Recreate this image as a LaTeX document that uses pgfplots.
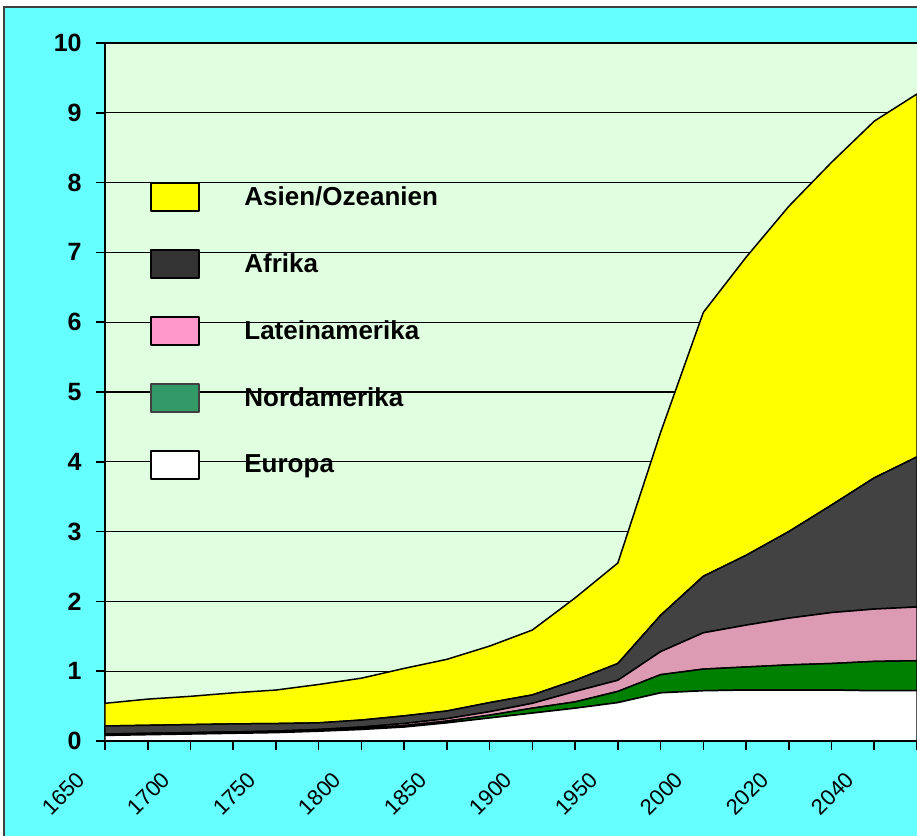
\documentclass[border=0pt]{standalone}
\usepackage{pgfplots}
\pgfplotsset{compat=1.18}
\usepackage{fontspec}
\setmainfont{Liberation Sans}

\definecolor{outerbg}{HTML}{66FFFF}
\definecolor{plotbg}{HTML}{E0FFE0}
\definecolor{asien}{HTML}{FFFF00}
\definecolor{afrika}{HTML}{424242}
\definecolor{latam}{HTML}{DD9AB3}
\definecolor{nordam}{HTML}{008000}
\definecolor{afrikaL}{HTML}{333333}
\definecolor{latamL}{HTML}{FF99CC}
\definecolor{nordamL}{HTML}{339966}
\definecolor{framec}{HTML}{404040}

% Bevoelkerung in Mrd., Zuwachs je Region (gestapelt)
% Spalte x: 0=1650, 2=1700, ... 14=2000, 16=2020, 18=2040
\pgfplotstableread{
x  eur   nam   lam   afr   asi
0  0.080 0.005 0.015 0.115 0.325
1  0.090 0.005 0.015 0.115 0.375
2  0.100 0.005 0.015 0.115 0.405
3  0.110 0.006 0.014 0.115 0.445
4  0.120 0.007 0.015 0.108 0.480
5  0.140 0.008 0.017 0.095 0.550
6  0.165 0.013 0.022 0.100 0.600
7  0.200 0.020 0.030 0.110 0.680
8  0.260 0.025 0.035 0.110 0.740
9  0.330 0.040 0.050 0.130 0.810
10 0.400 0.070 0.070 0.120 0.930
11 0.470 0.090 0.150 0.160 1.180
12 0.550 0.160 0.160 0.240 1.440
13 0.690 0.260 0.330 0.520 2.620
14 0.720 0.310 0.520 0.810 3.780
15 0.730 0.330 0.600 1.000 4.270
16 0.730 0.360 0.670 1.240 4.660
17 0.730 0.380 0.730 1.540 4.910
18 0.720 0.420 0.750 1.880 5.110
19 0.720 0.430 0.770 2.150 5.200
}\bevtab

\begin{document}
\begin{tikzpicture}[x=0.5pt,y=0.5pt]
\useasboundingbox (0,0) rectangle (917,836);
\fill[white] (0,0) rectangle (917,836);
\fill[outerbg] (4,-20) rectangle (940,829);
\draw[framec, line width=1pt] (4,-20) -- (4,829) -- (940,829);
\begin{axis}[
  at={(52.5pt,47.5pt)}, anchor=south west,
  width=406pt, height=349pt, scale only axis,
  xmin=0, xmax=19, ymin=0, ymax=10,
  stack plots=y,
  axis background/.style={fill=plotbg},
  axis x line=bottom, axis y line=left,
  axis line style={-, line width=1pt, black},
  xtick={0,...,19},
  xticklabels={1650,,1700,,1750,,1800,,1850,,1900,,1950,,2000,,2020,,2040,},
  ytick={0,...,10},
  tick align=outside, major tick length=4.5pt,
  tick style={black, line width=0.8pt},
  ymajorgrids, grid style={black, line width=0.6pt},
  /pgf/number format/assume math mode=true,
  yticklabel style={font=\bfseries\fontsize{12.5}{14}\selectfont, inner sep=0pt, xshift=-7pt},
  xticklabel style={font=\fontsize{11}{13}\selectfont, anchor=east, inner sep=0pt,
    xshift=-12pt, yshift=-13pt, rotate=45},
  legend image code/.code={
    \draw[#1, line width=1pt] (0pt,-7pt) rectangle (24pt,7pt);
    \path[draw=none, fill=none] (0pt,0pt) -- (46.5pt,0pt);},
  legend style={at={(0.0554,0.8274)}, anchor=north west, draw=none, fill=none,
    inner sep=0pt, row sep=0pt, font=\bfseries\fontsize{13}{15}\selectfont,
    cells={anchor=west}, nodes={minimum height=33.5pt, inner sep=0pt}},
  every axis plot/.append style={draw=black, line width=0.75pt, line join=round},
]
\addplot[fill=white, forget plot] table[x=x, y=eur] {\bevtab} \closedcycle;
\addplot[fill=nordam, forget plot] table[x=x, y=nam] {\bevtab} \closedcycle;
\addplot[fill=latam, forget plot] table[x=x, y=lam] {\bevtab} \closedcycle;
\addplot[fill=afrika, forget plot] table[x=x, y=afr] {\bevtab} \closedcycle;
\addplot[fill=asien, forget plot] table[x=x, y=asi] {\bevtab} \closedcycle;

\addlegendimage{fill=asien, draw=black}
\addlegendentry{Asien/Ozeanien}
\addlegendimage{fill=afrikaL, draw=black}
\addlegendentry{Afrika}
\addlegendimage{fill=latamL, draw=black}
\addlegendentry{Lateinamerika}
\addlegendimage{fill=nordamL, draw=framec}
\addlegendentry{Nordamerika}
\addlegendimage{fill=white, draw=black}
\addlegendentry{Europa}
\end{axis}
\end{tikzpicture}
\end{document}
